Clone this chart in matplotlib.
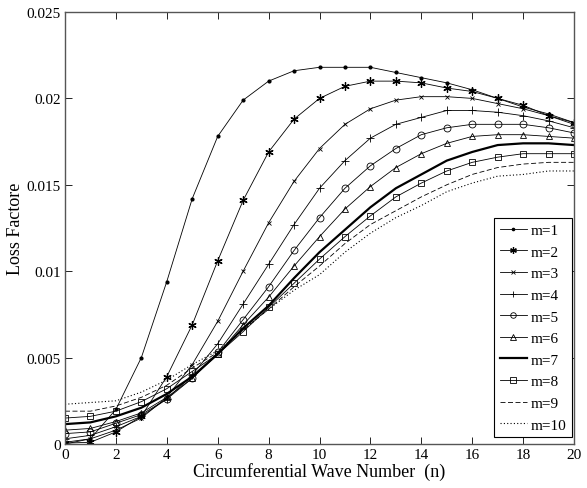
import matplotlib
matplotlib.use("Agg")
import matplotlib.pyplot as plt
import numpy as np

# circumferential wave number n and loss factor curves for axial modes m=1..10
n = np.arange(0, 21)

m1 = [0.0000, 0.0003, 0.0020, 0.0050, 0.0094, 0.0142, 0.0178, 0.0199, 0.0210, 0.0216, 0.0218,
      0.0218, 0.0218, 0.0215, 0.0212, 0.0209, 0.0205, 0.0200, 0.0195, 0.0191, 0.0186]
m2 = [0.00005, 0.0001, 0.0007, 0.0016, 0.0039, 0.0069, 0.0106, 0.0141, 0.0169, 0.0188, 0.0200,
      0.0207, 0.0210, 0.0210, 0.0209, 0.0206, 0.0204, 0.0200, 0.0196, 0.0190, 0.0186]
m3 = [0.0001, 0.0003, 0.0008, 0.0015, 0.0027, 0.0046, 0.0071, 0.0100, 0.0128, 0.0152, 0.0171,
      0.0185, 0.0194, 0.0199, 0.0201, 0.0201, 0.0200, 0.0197, 0.0194, 0.0190, 0.0185]
m4 = [0.0003, 0.0005, 0.0010, 0.0016, 0.0026, 0.0040, 0.0058, 0.0081, 0.0104, 0.0127, 0.0148,
      0.0164, 0.0177, 0.0185, 0.0189, 0.0193, 0.0193, 0.0192, 0.0190, 0.0187, 0.0183]
m5 = [0.0006, 0.0007, 0.0012, 0.0017, 0.0026, 0.0038, 0.0053, 0.0072, 0.0091, 0.0112, 0.0131,
      0.0148, 0.0161, 0.0171, 0.0179, 0.0183, 0.0185, 0.0185, 0.0185, 0.0183, 0.0180]
m6 = [0.0008, 0.0009, 0.0013, 0.0018, 0.0027, 0.0038, 0.0052, 0.0069, 0.0085, 0.0103, 0.0120,
      0.0136, 0.0149, 0.0160, 0.0168, 0.0174, 0.0178, 0.0179, 0.0179, 0.0178, 0.0177]
m7 = [0.00115, 0.00125, 0.0016, 0.0021, 0.0029, 0.0039, 0.0052, 0.0067, 0.0080, 0.0096, 0.0111,
      0.0124, 0.0137, 0.0148, 0.0156, 0.0164, 0.0169, 0.0173, 0.0174, 0.0174, 0.0173]
m8 = [0.0015, 0.0016, 0.0019, 0.00245, 0.0032, 0.0042, 0.0052, 0.0065, 0.0079, 0.0093, 0.0107,
      0.0120, 0.0132, 0.0143, 0.0151, 0.0158, 0.0163, 0.0166, 0.0168, 0.0168, 0.0168]
m9 = [0.0019, 0.0019, 0.0022, 0.0027, 0.0034, 0.0044, 0.0053, 0.0066, 0.0078, 0.0091, 0.0103,
      0.0116, 0.0127, 0.0135, 0.0143, 0.0150, 0.0156, 0.0160, 0.0162, 0.0163, 0.0163]
m10 = [0.0023, 0.0024, 0.0025, 0.0030, 0.0037, 0.0046, 0.0054, 0.0066, 0.0078, 0.0089, 0.0098,
       0.0111, 0.0122, 0.0131, 0.0138, 0.0146, 0.0151, 0.0155, 0.0156, 0.0158, 0.0158]

labels = ['m=%d' % i for i in range(1, 11)]

plt.rcParams['font.family'] = ['Liberation Serif', 'DejaVu Serif']

fig = plt.figure(figsize=(5.87, 4.89), dpi=100, facecolor='white')
ax = fig.add_axes([0.1107, 0.09, 0.8672, 0.8834])

thin = dict(color='black', lw=0.6)
ax.plot(n, m1, marker='.', ms=4, label=labels[0], **thin)
ax.plot(n, m2, marker=(6, 2, 0), ms=6, mew=0.9, label=labels[1], **thin)
ax.plot(n, m3, marker='x', ms=3.5, mew=0.6, label=labels[2], **thin)
ax.plot(n, m4, marker='+', ms=6, mew=0.6, label=labels[3], **thin)
ax.plot(n, m5, marker='o', ms=5, mew=0.6, mfc='none', label=labels[4], **thin)
ax.plot(n, m6, marker='^', ms=5, mew=0.6, mfc='none', label=labels[5], **thin)
ax.plot(n, m7, color='black', lw=1.6, label=labels[6])
ax.plot(n, m8, marker='s', ms=5, mew=0.6, mfc='none', label=labels[7], **thin)
ax.plot(n, m9, color='black', lw=0.6, ls=(0, (6, 3)), label=labels[8])
ax.plot(n, m10, color='black', lw=0.8, ls=(0, (1, 2)), label=labels[9])

ax.set_xlim(0, 20)
ax.set_ylim(0, 0.025)
ax.set_xticks(np.arange(0, 21, 2))
ax.set_yticks([0, 0.005, 0.01, 0.015, 0.02, 0.025])
ax.set_yticklabels(['0', '0.005', '0.01', '0.015', '0.02', '0.025'])
ax.tick_params(direction='in', top=True, right=True, length=5, width=0.6, labelsize=11, pad=3)
for s in ax.spines.values():
    s.set_color('#555555')
    s.set_linewidth(1.0)

ax.set_xlabel('Circumferential Wave Number  (n)', fontsize=13, labelpad=1)
ax.set_ylabel('Loss Factore', fontsize=13, labelpad=2)

leg = ax.legend(loc='lower right', bbox_to_anchor=(0.996, 0.016), borderaxespad=0,
                fancybox=False, edgecolor='black', framealpha=1, fontsize=11,
                handlelength=1.8, handletextpad=0.25, labelspacing=0.52, borderpad=0.35,
                markerscale=0.8)
leg.get_frame().set_linewidth(0.8)

fig.savefig('out.png', dpi=100, facecolor='white')
